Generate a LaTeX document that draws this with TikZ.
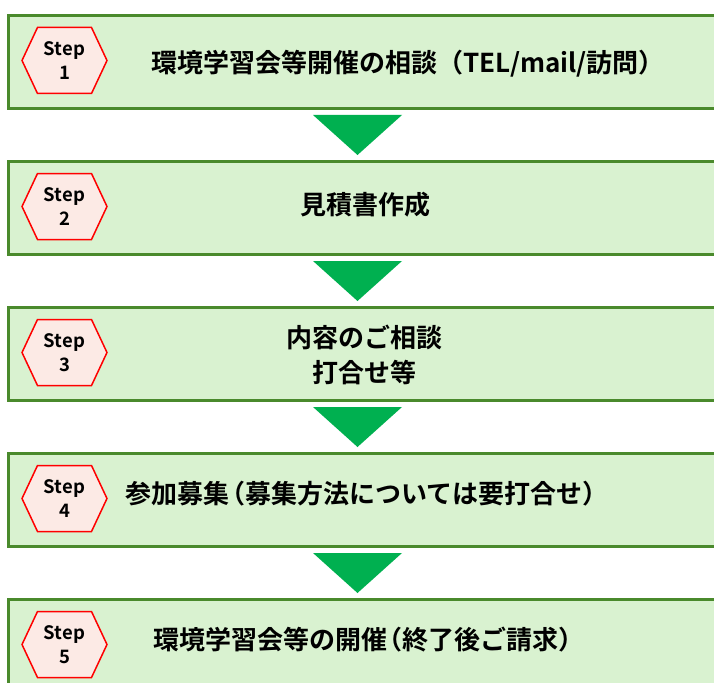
\documentclass[tikz,border=0pt]{standalone}
\usepackage{fontspec}
\newfontfamily\jp{Noto Sans CJK JP}[BoldFont={Noto Sans CJK JP Bold}]
\definecolor{boxfill}{HTML}{D9F2D0}
\definecolor{boxline}{HTML}{4A8A2C}
\definecolor{arrowg}{HTML}{00B050}
\definecolor{hexfill}{HTML}{FCEAE5}
\definecolor{hexline}{HTML}{FF0000}
\newcommand{\lpar}{\kern-0.4em（}
\begin{document}
\begin{tikzpicture}[x=1pt,y=-1pt,
  stepbox/.style={draw=boxline, line width=3pt, fill=boxfill, minimum width=712pt,
    minimum height=93pt, anchor=north west, inner sep=0pt},
  hexshape/.style={draw=hexline, line width=1.5pt, fill=hexfill, line join=miter},
  steplabel/.style={font=\jp\bfseries\fontsize{18.5}{24}\selectfont, align=center, inner sep=0pt},
  maintext/.style={font=\jp\bfseries\fontsize{26}{35}\selectfont, align=center, inner sep=0pt},
  downarrow/.style={fill=arrowg}]
\useasboundingbox (0,0) rectangle (714,682);
\clip (0,0) rectangle (714,682);
\foreach \i/\t in {1/14,2/160,3/306,4/452,5/598} {
  \node[stepbox] (b\i) at (7,\t) {};
  \coordinate (h\i) at (64.5,\t+46.5);
  \draw[hexshape] (h\i) ++(-42.5,0) -- ++(15.5,-33) -- ++(54,0) -- ++(15.5,33)
     -- ++(-15.5,33) -- ++(-54,0) -- cycle;
  \node[steplabel] (s\i) at ([yshift=-0.5pt]h\i) {Step\\\i};
}
\foreach \t in {14,160,306,452} {
  \fill[downarrow] (313,\t+101) -- (402,\t+101) -- (357.5,\t+141) -- cycle;
}
\node[maintext] (t1) at (408,64) {環境学習会等開催の相談（TEL/mail/訪問）};
\node[maintext] (t2) at (365.5,204.5) {見積書作成};
\node[maintext] (t3) at (364,354.5) {内容のご相談\\打合せ等};
\node[maintext] (t4) at (367,493.5) {参加募集\lpar 募集方法については要打合せ）};
\node[maintext] (t5) at (369,639.5) {環境学習会等の開催\lpar 終了後ご請求）};
\end{tikzpicture}
\end{document}
